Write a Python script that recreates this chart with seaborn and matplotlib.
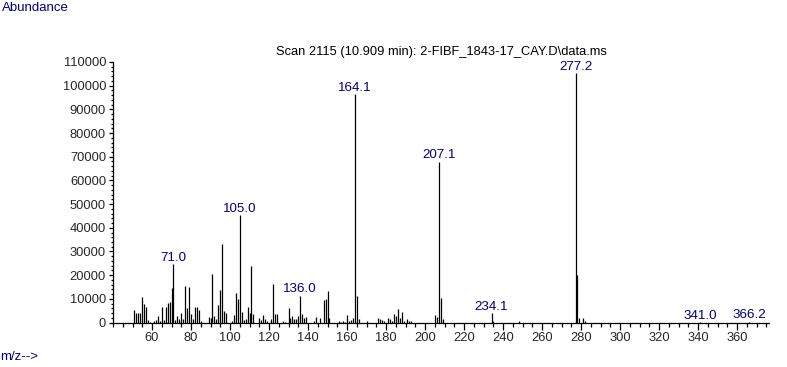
import matplotlib
matplotlib.use("Agg")
import matplotlib.pyplot as plt
import seaborn as sns
import pandas as pd
from matplotlib.ticker import MultipleLocator

# peak list (m/z, abundance)
mz = [51, 52, 53, 54, 55, 56, 57, 58, 59, 61, 62, 63, 64, 65, 66, 67, 68, 69, 70, 71.0,
      72, 73, 74, 75, 76, 77, 78, 79, 80, 81, 82, 83, 84, 85, 89, 90, 91, 92, 93, 94,
      95, 96, 97, 98, 101, 102, 103, 104, 105.0, 106, 107, 108, 109, 110, 111, 112,
      115, 116, 117, 118, 119, 121, 122, 123, 124, 127, 128, 130, 131, 132, 133, 134,
      135, 136.0, 137, 138, 139, 143, 144, 146, 148, 149, 150, 151, 156, 157, 158, 159,
      160, 161, 162, 163, 164.1, 165, 166, 170, 176, 177, 178, 179, 181, 182, 183, 184,
      185, 186, 187, 188, 189, 191, 192, 193, 205, 206, 207.1, 208, 209, 234.1, 235,
      248, 277.2, 278, 279, 281, 282, 341.0, 366.2]
abundance = [5200, 3900, 3900, 3900, 10900, 7900, 6600, 1000, 400, 600, 1000, 2700, 600,
             6600, 1200, 6700, 8300, 8800, 14500, 24500, 1200, 2600, 1300, 3900, 1300,
             15500, 6200, 14800, 3500, 1300, 6500, 6500, 5200, 500, 2200, 1800, 20300,
             2700, 1300, 7400, 13700, 33200, 4800, 3900, 500, 3100, 12500, 10100, 45200,
             4300, 1000, 1300, 6500, 3900, 24000, 3500, 1800, 1000, 3100, 1300, 500, 1300,
             16200, 3800, 3800, 500, 400, 6300, 2000, 2800, 1500, 1500, 2800, 11300, 3600,
             2000, 2400, 500, 2400, 2000, 9600, 10000, 13400, 2000, 700, 400, 700, 400,
             3200, 500, 1100, 2000, 96300, 11000, 1600, 500, 1800, 1400, 1000, 500, 1800,
             1400, 600, 3800, 2700, 5600, 1800, 4400, 500, 1400, 500, 500, 3100, 2200,
             67800, 10400, 1400, 3900, 500, 500, 105200, 20000, 1800, 1800, 500, 150, 300]
labelled = [71.0, 105.0, 136.0, 164.1, 207.1, 234.1, 277.2, 341.0, 366.2]

df = pd.DataFrame({"mz": mz, "abundance": abundance})

sns.set_theme(style="ticks")
plt.rcParams["font.family"] = ["Liberation Sans", "DejaVu Sans"]
navy = "#000080"

fig = plt.figure(figsize=(7.87, 3.67), dpi=100)
ax = fig.add_axes([113 / 787, 44.5 / 367, 656 / 787, 260.5 / 367])

ax.vlines(df["mz"], 0, df["abundance"], color="black", linewidth=0.9)
for m in labelled:
    h = df.loc[df["mz"] == m, "abundance"].iloc[0]
    ax.annotate(f"{m:.1f}", (m, h), xytext=(0, 2.5), textcoords="offset points",
                ha="center", va="baseline", fontsize=9.6, color=navy)

ax.set_xlim(40, 376.4)
ax.set_ylim(0, 110000)
ax.xaxis.set_minor_locator(MultipleLocator(5))
ax.yaxis.set_major_locator(MultipleLocator(10000))
ax.yaxis.set_minor_locator(MultipleLocator(2000))
ax.set_xticks([t for t in range(60, 380, 20)])
ax.tick_params(axis="x", which="major", length=5, width=0.9, pad=2, labelsize=9.3, color="black")
ax.tick_params(axis="x", which="minor", length=3, width=0.9, color="black")
ax.tick_params(axis="y", which="major", length=3, width=0.9, pad=2, labelsize=9.3, color="black")
ax.tick_params(axis="y", which="minor", length=1.5, width=0.9, color="black")
sns.despine(ax=ax)
for s in ("left", "bottom"):
    ax.spines[s].set_linewidth(0.9)
    ax.spines[s].set_color("black")
ax.set_xlabel("")
ax.set_ylabel("")

fig.text(0.002, 1 - 2 / 367, "Abundance", ha="left", va="top", fontsize=9.5, color=navy)
fig.text(0.0, 1 - 351 / 367, "m/z-->", ha="left", va="top", fontsize=9.5, color=navy)
fig.text(441 / 787, 1 - 55 / 367, "Scan 2115 (10.909 min): 2-FIBF_1843-17_CAY.D\\data.ms",
         ha="center", va="baseline", fontsize=9.3, color="black")

fig.savefig("out.png", dpi=100)
